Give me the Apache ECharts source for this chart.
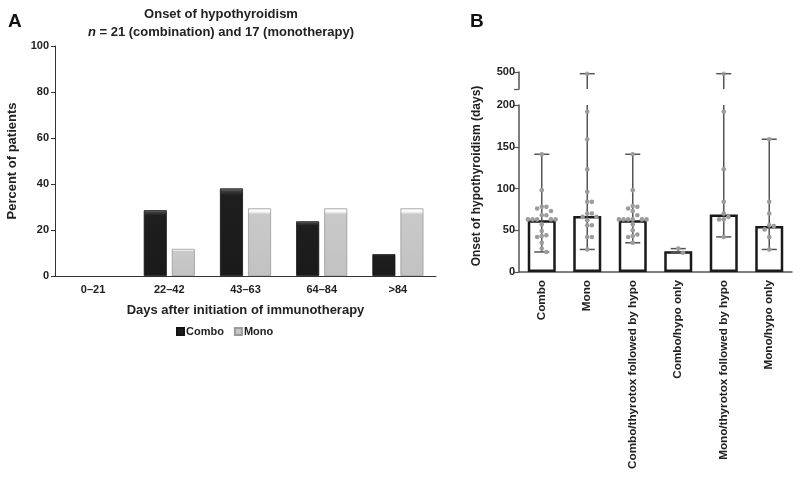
<!DOCTYPE html>
<html><head><meta charset="utf-8">
<script src="https://cdn.jsdelivr.net/npm/echarts@6/dist/echarts.min.js"></script>
<style>html,body{margin:0;padding:0;background:#fff}#c{width:800px;height:478px}</style>
</head><body><div id="c"></div>
<script>
// ---------- Panel A data ----------
const catsA = ['0–21', '22–42', '43–63', '64–84', '>84'];
const comboA = [0, 28.6, 38.1, 23.8, 9.5];
const monoA = [0, 11.8, 29.4, 29.4, 29.4];
const ticksA = [0, 20, 40, 60, 80, 100];

// ---------- Panel B data ----------
const catsB = ['Combo', 'Mono', 'Combo/thyrotox followed by hypo', 'Combo/hypo only', 'Mono/thyrotox followed by hypo', 'Mono/hypo only'];
const medianB = [62, 67, 62, 25, 69, 55];
const minB = [24, 27, 35, 23, 42, 27];
const maxB = [141, 490, 141, 28, 490, 159];
const dotsCombo = [141, 98, 78, 78, 76, 73, 68, 68, 63, 63, 63, 63, 63, 57, 49, 44, 43, 42, 35, 28, 24];
const dotsMono = [490, 192, 159, 123, 96, 84, 84, 70, 70, 66, 66, 62, 56, 56, 42, 42, 27];
const dotsComboThyro = [141, 98, 79, 78, 76, 73, 68, 63, 63, 63, 63, 63, 63, 57, 50, 45, 43, 42, 35];
const dotsComboHypo = [28, 23];
const dotsMonoThyro = [490, 192, 123, 84, 70, 66, 63, 63, 42];
const dotsMonoHypo = [159, 84, 70, 56, 55, 51, 42, 27];
const ticksBLow = [0, 50, 100, 150, 200];
const ticksBHigh = [500];

const dotsB = [dotsCombo, dotsMono, dotsComboThyro, dotsComboHypo, dotsMonoThyro, dotsMonoHypo];
const BREAK = 200;      // top of lower segment
const UPPER_MIN = 400;  // bottom of upper segment

const FONT = 'Liberation Sans, Arial, sans-serif';
const TXT = '#222';

// dots split by segment
const dotLow = [], dotHigh = [];
dotsB.forEach((arr, ci) => arr.forEach((v, k) => {
  if (v <= BREAK) dotLow.push([ci, v, k]); else dotHigh.push([ci, v]);
}));
const whiskLow = catsB.map((c, i) => [i, minB[i], maxB[i]]);
const whiskHigh = catsB.map((c, i) => [i, UPPER_MIN, maxB[i]]).filter(d => d[2] > BREAK);

// beeswarm offsets computed in pixel space through the axis scale
const swarmCache = {};
function swarmOffsets(api, ci) {
  if (swarmCache[ci]) return swarmCache[ci];
  const D = 5.0;
  const placed = [];
  const res = {};
  dotsB[ci].forEach((v, k) => {
    if (v > BREAK) return;
    const y = api.coord([ci, v])[1];
    let off = 0;
    for (let n = 0; n < 60; n++) {
      const cand = n === 0 ? 0 : (n % 2 ? 1 : -1) * Math.ceil(n / 2) * D * 0.92;
      if (placed.every(p => (p.x - cand) ** 2 + (p.y - y) ** 2 >= D * D * 0.8)) { off = cand; break; }
    }
    placed.push({ x: off, y });
    res[k] = off;
  });
  swarmCache[ci] = res;
  return res;
}

const lineStyleB = { stroke: '#555', lineWidth: 1.5 };
function whiskerItem(topLimit, capLow) {
  return function (params, api) {
    const i = api.value(0), lo = api.value(1), hi = api.value(2);
    const cw = api.size([1, 0])[0] * 0.165;
    const p0 = api.coord([i, lo]);
    const p1 = api.coord([i, Math.min(hi, topLimit)]);
    const ch = [{ type: 'line', shape: { x1: p0[0], y1: p0[1], x2: p1[0], y2: p1[1] }, style: lineStyleB }];
    if (capLow) ch.push({ type: 'line', shape: { x1: p0[0] - cw, y1: p0[1], x2: p0[0] + cw, y2: p0[1] }, style: lineStyleB });
    if (hi <= topLimit) ch.push({ type: 'line', shape: { x1: p1[0] - cw, y1: p1[1], x2: p1[0] + cw, y2: p1[1] }, style: lineStyleB });
    return { type: 'group', children: ch };
  };
}

const axisLabelA = { color: TXT, fontFamily: FONT, fontWeight: 'bold', fontSize: 11 };
const axisLabelB = { color: TXT, fontFamily: FONT, fontWeight: 'bold', fontSize: 11 };
const noZero = v => (v === 0 ? '-' : v);

const chart = echarts.init(document.getElementById('c'), null, { renderer: 'canvas' });
chart.setOption({
  animation: false,
  backgroundColor: '#fff',
  title: [
    { text: 'A', left: 8, top: 12, padding: 0, textStyle: { fontFamily: FONT, fontSize: 19, fontWeight: 'bold', color: '#111' } },
    { text: 'Onset of hypothyroidism', left: 221, top: 8, padding: 0, textAlign: 'center', textStyle: { fontFamily: FONT, fontSize: 13, fontWeight: 'bold', color: TXT } },
    { text: '{i|n} = 21 (combination) and 17 (monotherapy)', left: 221, top: 26, padding: 0, textAlign: 'center',
      textStyle: { fontFamily: FONT, fontSize: 13, fontWeight: 'bold', color: TXT,
        rich: { i: { fontFamily: FONT, fontSize: 13, fontWeight: 'bold', fontStyle: 'italic', color: TXT } } } },
    { text: 'B', left: 470, top: 12, padding: 0, textStyle: { fontFamily: FONT, fontSize: 19, fontWeight: 'bold', color: '#111' } }
  ],
  graphic: [
    { type: 'text', x: 477, y: 176, rotation: Math.PI / 2,
      style: { text: 'Onset of hypothyroidism (days)', fontFamily: FONT, fontSize: 12, fontWeight: 'bold', fill: TXT, align: 'center', verticalAlign: 'middle' } }
  ],
  legend: {
    data: ['Combo', 'Mono'], left: 171, top: 321, itemWidth: 7, itemHeight: 7, itemGap: 10, icon: 'rect',
    textStyle: { fontFamily: FONT, fontSize: 11, fontWeight: 'bold', color: TXT, padding: [0, 0, 0, -3] }
  },
  grid: [
    { left: 55, top: 46, width: 381, height: 230 },
    { left: 519, top: 72, width: 273, height: 17 },
    { left: 519, top: 105, width: 273, height: 167 }
  ],
  xAxis: [
    { type: 'category', gridIndex: 0, data: catsA,
      name: 'Days after initiation of immunotherapy', nameLocation: 'middle', nameGap: 28,
      nameTextStyle: { fontFamily: FONT, fontSize: 13, fontWeight: 'bold', color: TXT },
      axisLine: { lineStyle: { color: '#333', width: 1 } },
      axisTick: { length: 4, lineStyle: { color: '#333' } },
      axisLabel: Object.assign({ margin: 8 }, axisLabelA) },
    { type: 'category', gridIndex: 1, data: catsB, show: false },
    { type: 'category', gridIndex: 2, data: catsB, position: 'bottom',
      axisLine: { lineStyle: { color: '#555', width: 1.5 } },
      axisTick: { alignWithLabel: true, length: 4, lineStyle: { color: '#555', width: 1.2 } },
      axisLabel: Object.assign({ rotate: 90, margin: 8, interval: 0 }, axisLabelB, { fontSize: 11.7 }) },
    { type: 'category', gridIndex: 2, data: new Array(18).fill(''), position: 'bottom', offset: 0,
      axisLine: { show: false },
      axisTick: { alignWithLabel: true, interval: 0, length: 4, lineStyle: { color: '#555', width: 1.2 } },
      axisLabel: { show: false } }
  ],
  yAxis: [
    { type: 'value', gridIndex: 0, min: ticksA[0], max: ticksA[ticksA.length - 1], interval: 20,
      name: 'Percent of patients', nameLocation: 'middle', nameGap: 36,
      nameTextStyle: { fontFamily: FONT, fontSize: 13, fontWeight: 'bold', color: TXT },
      axisLine: { show: true, lineStyle: { color: '#333', width: 1 } },
      axisTick: { show: true, length: 4, lineStyle: { color: '#333' } },
      splitLine: { show: false },
      axisLabel: Object.assign({ margin: 6 }, axisLabelA) },
    { type: 'value', gridIndex: 1, min: UPPER_MIN, max: ticksBHigh[0], interval: 100,
      axisLine: { show: true, lineStyle: { color: '#555', width: 1.5 } },
      axisTick: { show: true, length: 5, lineStyle: { color: '#555', width: 1.2 } },
      splitLine: { show: false },
      axisLabel: Object.assign({ margin: 4, formatter: v => ticksBHigh.indexOf(v) >= 0 ? String(v) : '' }, axisLabelB) },
    { type: 'value', gridIndex: 2, min: ticksBLow[0], max: ticksBLow[ticksBLow.length - 1], interval: 50,
      axisLine: { show: true, lineStyle: { color: '#555', width: 1.5 } },
      axisTick: { show: true, length: 5, lineStyle: { color: '#555', width: 1.2 } },
      splitLine: { show: false },
      axisLabel: Object.assign({ margin: 4 }, axisLabelB) }
  ],
  series: [
    { name: 'Combo', type: 'bar', xAxisIndex: 0, yAxisIndex: 0, data: comboA.map(noZero), barWidth: 23, barGap: '22%',
      itemStyle: { borderColor: '#111', borderWidth: 0.8,
        color: { type: 'linear', x: 0, y: 0, x2: 0, y2: 1, colorStops: [
          { offset: 0, color: '#7a7a7a' }, { offset: 0.035, color: '#3a3a3a' }, { offset: 0.08, color: '#1e1e1e' }, { offset: 1, color: '#1a1a1a' }] } } },
    { name: 'Mono', type: 'bar', xAxisIndex: 0, yAxisIndex: 0, data: monoA.map(noZero), barWidth: 23,
      itemStyle: { borderColor: '#9a9a9a', borderWidth: 0.8,
        color: { type: 'linear', x: 0, y: 0, x2: 0, y2: 1, colorStops: [
          { offset: 0, color: '#f4f4f4' }, { offset: 0.04, color: '#ffffff' }, { offset: 0.09, color: '#c9c9c9' }, { offset: 1, color: '#c2c2c2' }] } } },

    { name: 'medianB', type: 'bar', xAxisIndex: 2, yAxisIndex: 2, data: medianB, barWidth: 28, z: 2,
      itemStyle: { color: '#fff', borderColor: '#1a1a1a', borderWidth: 2.5 } },
    { name: 'rangeLow', type: 'custom', xAxisIndex: 2, yAxisIndex: 2, data: whiskLow, z: 3,
      renderItem: whiskerItem(BREAK, true), encode: { x: 0, y: [1, 2] } },
    { name: 'rangeHigh', type: 'custom', xAxisIndex: 1, yAxisIndex: 1, data: whiskHigh, z: 3,
      renderItem: whiskerItem(Infinity, false), encode: { x: 0, y: [1, 2] } },
    { name: 'dotsLow', type: 'custom', xAxisIndex: 2, yAxisIndex: 2, data: dotLow, z: 4,
      encode: { x: 0, y: 1 },
      renderItem: function (params, api) {
        const ci = api.value(0), v = api.value(1), k = api.value(2);
        const off = swarmOffsets(api, ci)[k] || 0;
        const p = api.coord([ci, v]);
        return { type: 'circle', shape: { cx: p[0] + off, cy: p[1], r: 2.3 }, style: { fill: '#9c9c9c' } };
      } },
    { name: 'dotsHigh', type: 'scatter', xAxisIndex: 1, yAxisIndex: 1, data: dotHigh, z: 4,
      symbolSize: 4.6, itemStyle: { color: '#9c9c9c' } }
  ]
});
</script>
</body></html>
